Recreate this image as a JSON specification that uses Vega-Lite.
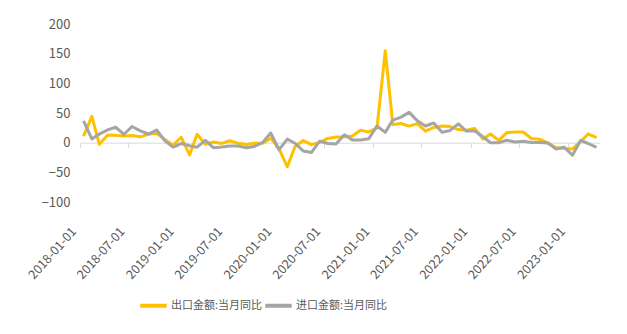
{
  "$schema": "https://vega.github.io/schema/vega-lite/v6.json",
  "width": 521,
  "height": 178,
  "autosize": {"type": "none"},
  "padding": {"left": 79, "top": 24, "right": 27, "bottom": 132},
  "background": "white",
  "config": {"view": {"stroke": null}, "font": "Noto Sans CJK SC"},
  "data": {"values": [
    {"date": "2018-01-01", "出口金额:当月同比": 11.1, "进口金额:当月同比": 36.9},
    {"date": "2018-02-01", "出口金额:当月同比": 44.5, "进口金额:当月同比": 6.3},
    {"date": "2018-03-01", "出口金额:当月同比": -2.7, "进口金额:当月同比": 14.4},
    {"date": "2018-04-01", "出口金额:当月同比": 12.9, "进口金额:当月同比": 21.5},
    {"date": "2018-05-01", "出口金额:当月同比": 12.6, "进口金额:当月同比": 26.0},
    {"date": "2018-06-01", "出口金额:当月同比": 11.2, "进口金额:当月同比": 14.1},
    {"date": "2018-07-01", "出口金额:当月同比": 12.2, "进口金额:当月同比": 27.3},
    {"date": "2018-08-01", "出口金额:当月同比": 9.8, "进口金额:当月同比": 20.0},
    {"date": "2018-09-01", "出口金额:当月同比": 14.5, "进口金额:当月同比": 14.3},
    {"date": "2018-10-01", "出口金额:当月同比": 15.6, "进口金额:当月同比": 21.4},
    {"date": "2018-11-01", "出口金额:当月同比": 5.4, "进口金额:当月同比": 3.0},
    {"date": "2018-12-01", "出口金额:当月同比": -4.4, "进口金额:当月同比": -7.6},
    {"date": "2019-01-01", "出口金额:当月同比": 9.1, "进口金额:当月同比": -1.5},
    {"date": "2019-02-01", "出口金额:当月同比": -20.7, "进口金额:当月同比": -5.2},
    {"date": "2019-03-01", "出口金额:当月同比": 14.2, "进口金额:当月同比": -7.6},
    {"date": "2019-04-01", "出口金额:当月同比": -2.7, "进口金额:当月同比": 4.0},
    {"date": "2019-05-01", "出口金额:当月同比": 1.1, "进口金额:当月同比": -8.5},
    {"date": "2019-06-01", "出口金额:当月同比": -1.3, "进口金额:当月同比": -7.3},
    {"date": "2019-07-01", "出口金额:当月同比": 3.3, "进口金额:当月同比": -5.6},
    {"date": "2019-08-01", "出口金额:当月同比": -1.0, "进口金额:当月同比": -5.6},
    {"date": "2019-09-01", "出口金额:当月同比": -3.2, "进口金额:当月同比": -8.5},
    {"date": "2019-10-01", "出口金额:当月同比": -0.9, "进口金额:当月同比": -6.4},
    {"date": "2019-11-01", "出口金额:当月同比": -1.1, "进口金额:当月同比": 0.3},
    {"date": "2019-12-01", "出口金额:当月同比": 7.6, "进口金额:当月同比": 16.3},
    {"date": "2020-01-01", "出口金额:当月同比": -10.0, "进口金额:当月同比": -12.0},
    {"date": "2020-02-01", "出口金额:当月同比": -40.6, "进口金额:当月同比": 6.0},
    {"date": "2020-03-01", "出口金额:当月同比": -6.6, "进口金额:当月同比": -1.0},
    {"date": "2020-04-01", "出口金额:当月同比": 3.5, "进口金额:当月同比": -14.2},
    {"date": "2020-05-01", "出口金额:当月同比": -3.3, "进口金额:当月同比": -16.7},
    {"date": "2020-06-01", "出口金额:当月同比": 0.5, "进口金额:当月同比": 2.7},
    {"date": "2020-07-01", "出口金额:当月同比": 7.2, "进口金额:当月同比": -1.4},
    {"date": "2020-08-01", "出口金额:当月同比": 9.5, "进口金额:当月同比": -2.1},
    {"date": "2020-09-01", "出口金额:当月同比": 9.9, "进口金额:当月同比": 13.2},
    {"date": "2020-10-01", "出口金额:当月同比": 11.4, "进口金额:当月同比": 4.7},
    {"date": "2020-11-01", "出口金额:当月同比": 21.1, "进口金额:当月同比": 4.5},
    {"date": "2020-12-01", "出口金额:当月同比": 18.1, "进口金额:当月同比": 6.5},
    {"date": "2021-01-01", "出口金额:当月同比": 24.9, "进口金额:当月同比": 28.0},
    {"date": "2021-02-01", "出口金额:当月同比": 154.9, "进口金额:当月同比": 17.3},
    {"date": "2021-03-01", "出口金额:当月同比": 30.6, "进口金额:当月同比": 38.1},
    {"date": "2021-04-01", "出口金额:当月同比": 32.3, "进口金额:当月同比": 43.1},
    {"date": "2021-05-01", "出口金额:当月同比": 27.9, "进口金额:当月同比": 51.1},
    {"date": "2021-06-01", "出口金额:当月同比": 32.2, "进口金额:当月同比": 36.7},
    {"date": "2021-07-01", "出口金额:当月同比": 19.3, "进口金额:当月同比": 28.1},
    {"date": "2021-08-01", "出口金额:当月同比": 25.6, "进口金额:当月同比": 33.1},
    {"date": "2021-09-01", "出口金额:当月同比": 28.1, "进口金额:当月同比": 17.6},
    {"date": "2021-10-01", "出口金额:当月同比": 27.1, "进口金额:当月同比": 20.6},
    {"date": "2021-11-01", "出口金额:当月同比": 22.0, "进口金额:当月同比": 31.7},
    {"date": "2021-12-01", "出口金额:当月同比": 20.9, "进口金额:当月同比": 19.5},
    {"date": "2022-01-01", "出口金额:当月同比": 24.1, "进口金额:当月同比": 19.5},
    {"date": "2022-02-01", "出口金额:当月同比": 6.2, "进口金额:当月同比": 10.0},
    {"date": "2022-03-01", "出口金额:当月同比": 14.7, "进口金额:当月同比": -0.1},
    {"date": "2022-04-01", "出口金额:当月同比": 3.9, "进口金额:当月同比": 0.0},
    {"date": "2022-05-01", "出口金额:当月同比": 16.9, "进口金额:当月同比": 4.1},
    {"date": "2022-06-01", "出口金额:当月同比": 17.9, "进口金额:当月同比": 1.0},
    {"date": "2022-07-01", "出口金额:当月同比": 18.0, "进口金额:当月同比": 2.3},
    {"date": "2022-08-01", "出口金额:当月同比": 7.1, "进口金额:当月同比": 0.3},
    {"date": "2022-09-01", "出口金额:当月同比": 5.7, "进口金额:当月同比": 0.3},
    {"date": "2022-10-01", "出口金额:当月同比": -0.3, "进口金额:当月同比": -0.7},
    {"date": "2022-11-01", "出口金额:当月同比": -8.7, "进口金额:当月同比": -10.6},
    {"date": "2022-12-01", "出口金额:当月同比": -9.9, "进口金额:当月同比": -7.5},
    {"date": "2023-01-01", "出口金额:当月同比": -10.5, "进口金额:当月同比": -21.3},
    {"date": "2023-02-01", "出口金额:当月同比": 2.0, "进口金额:当月同比": 4.0},
    {"date": "2023-03-01", "出口金额:当月同比": 14.8, "进口金额:当月同比": -1.4},
    {"date": "2023-04-01", "出口金额:当月同比": 8.5, "进口金额:当月同比": -7.9}
  ]},
  "transform": [{"fold": ["出口金额:当月同比", "进口金额:当月同比"], "as": ["series", "value"]}],
  "layer": [
    {
      "mark": {"type": "point", "opacity": 0},
      "encoding": {
        "x": {
          "field": "date", "type": "temporal",
          "scale": {"type": "utc", "nice": false, "domain": [{"year": 2017, "month": 12, "date": 15, "utc": true}, {"year": 2023, "month": 4, "date": 14, "utc": true}]},
          "axis": {
            "orient": "bottom", "offset": -59.33, "labels": false, "title": null, "grid": false,
            "domain": true, "domainColor": "#d9d9d9", "domainWidth": 1,
            "ticks": true, "tickColor": "#d9d9d9", "tickSize": 5, "tickOffset": -4,
            "values": [
              {"year": 2018, "month": 1, "date": 1, "utc": true}, {"year": 2018, "month": 7, "date": 1, "utc": true},
              {"year": 2019, "month": 1, "date": 1, "utc": true}, {"year": 2019, "month": 7, "date": 1, "utc": true},
              {"year": 2020, "month": 1, "date": 1, "utc": true}, {"year": 2020, "month": 7, "date": 1, "utc": true},
              {"year": 2021, "month": 1, "date": 1, "utc": true}, {"year": 2021, "month": 7, "date": 1, "utc": true},
              {"year": 2022, "month": 1, "date": 1, "utc": true}, {"year": 2022, "month": 7, "date": 1, "utc": true},
              {"year": 2023, "month": 1, "date": 1, "utc": true}
            ]
          }
        }
      }
    },
    {
      "mark": {"type": "line", "strokeWidth": 3, "strokeJoin": "round"},
      "encoding": {
        "x": {
          "field": "date", "type": "temporal",
          "scale": {"type": "utc", "nice": false, "domain": [{"year": 2017, "month": 12, "date": 15, "utc": true}, {"year": 2023, "month": 4, "date": 14, "utc": true}]},
          "axis": {
            "orient": "bottom", "title": null, "grid": false, "domain": false, "ticks": false,
            "format": "%Y-%m-%d", "labelAngle": -48, "labelAlign": "right", "labelBaseline": "middle",
            "labelFontSize": 12.5, "labelColor": "#595959", "labelPadding": 27, "tickOffset": -4, "labelOffset": -6,
            "labelOverlap": false, "labelBound": false, "labelFlush": false,
            "values": [
              {"year": 2018, "month": 1, "date": 1, "utc": true}, {"year": 2018, "month": 7, "date": 1, "utc": true},
              {"year": 2019, "month": 1, "date": 1, "utc": true}, {"year": 2019, "month": 7, "date": 1, "utc": true},
              {"year": 2020, "month": 1, "date": 1, "utc": true}, {"year": 2020, "month": 7, "date": 1, "utc": true},
              {"year": 2021, "month": 1, "date": 1, "utc": true}, {"year": 2021, "month": 7, "date": 1, "utc": true},
              {"year": 2022, "month": 1, "date": 1, "utc": true}, {"year": 2022, "month": 7, "date": 1, "utc": true},
              {"year": 2023, "month": 1, "date": 1, "utc": true}
            ]
          }
        },
        "y": {
          "field": "value", "type": "quantitative",
          "scale": {"domain": [-100, 200], "nice": false, "zero": false},
          "axis": {
            "title": null, "grid": false, "domain": false, "ticks": false,
            "values": [-100, -50, 0, 50, 100, 150, 200],
            "labelFontSize": 13, "labelColor": "#595959", "labelPadding": 9
          }
        },
        "color": {
          "field": "series", "type": "nominal",
          "scale": {"domain": ["出口金额:当月同比", "进口金额:当月同比"], "range": ["#FFC000", "#A5A5A5"]},
          "legend": {
            "title": null, "orient": "none", "direction": "horizontal",
            "legendX": 59, "legendY": 266,
            "symbolType": "stroke", "symbolSize": 700, "symbolStrokeWidth": 4,
            "labelFontSize": 11, "labelColor": "#595959", "labelOffset": 2, "columnPadding": -10
          }
        }
      }
    }
  ],
  "resolve": {"axis": {"x": "independent"}}
}
